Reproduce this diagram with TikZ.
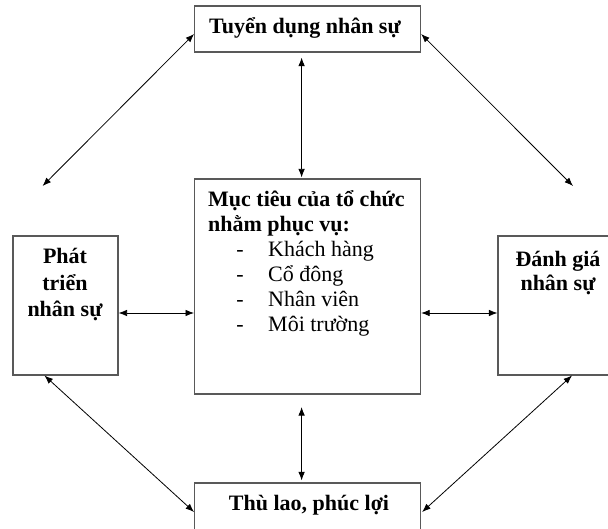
\documentclass[tikz,border=0pt]{standalone}
\usepackage{fontspec}
\setmainfont{Liberation Serif}
\usetikzlibrary{arrows.meta}
\begin{document}
\begin{tikzpicture}[x=1pt,y=-1pt,
  box/.style={draw=black!65,line width=1.1pt,inner sep=0pt,rectangle},
  conn/.style={{Latex[length=8.5pt,width=6.5pt]}-{Latex[length=8.5pt,width=6.5pt]},line width=0.8pt,black},
  ttl/.style={font=\fontsize{22}{26}\selectfont\bfseries,inner sep=0pt,anchor=base},
  itm/.style={font=\fontsize{22}{26}\selectfont,inner sep=0pt,anchor=base west}]
\clip (0,0) rectangle (608,529);
\fill[white] (0,0) rectangle (608,529);
% boxes
\node[box,minimum width=226pt,minimum height=46pt] (top) at (307.6,29) {};
\node[box,minimum width=226pt,minimum height=215pt] (ctr) at (307.6,286.5) {};
\node[box,minimum width=105pt,minimum height=139pt] (lft) at (65.5,305.5) {};
\node[box,minimum width=122pt,minimum height=139pt] (rgt) at (559,305.5) {};
\node[box,minimum width=226pt,minimum height=57pt] (bot) at (307.6,511.5) {};
% texts
\node[ttl] (ttop) at (305,33.3) {Tuyển dụng nhân sự};
\node[ttl] (tbot) at (309,510.7) {Thù lao, phúc lợi};
\node[ttl] (tl1) at (65,263.3) {Phát};
\node[ttl] (tl2) at (65,290.7) {triển};
\node[ttl] (tl3) at (65,316.7) {nhân sự};
\node[ttl] (tr1) at (558,266.7) {Đánh giá};
\node[ttl] (tr2) at (558,290.7) {nhân sự};
\node[itm,font=\fontsize{22}{26}\selectfont\bfseries] (c1) at (208,206.7) {Mục tiêu của tổ chức};
\node[itm,font=\fontsize{22}{26}\selectfont\bfseries] (c2) at (208,231.7) {nhằm phục vụ:};
\foreach \i/\y/\t in {3/257/Khách hàng,4/281.7/Cổ đông,5/307/Nhân viên,6/332/Môi trường}{
  \node[itm,anchor=base] (d\i) at (240,\y) {-};
  \node[itm] (c\i) at (268,\y) {\t};
}
% connector helpers
\coordinate (hl) at (0,313);
\coordinate (fl) at (42.6,186);
\coordinate (fr) at (573,186);
\draw[conn] ([xshift=-6pt,yshift=-5pt]top.south) -- ([xshift=-6pt,yshift=1pt]ctr.north);
\draw[conn] ([xshift=-6pt,yshift=-12.5pt]ctr.south) -- ([xshift=-6pt,yshift=2pt]bot.north);
\draw[conn] (lft.east |- hl) -- (ctr.west |- hl);
\draw[conn] (ctr.east |- hl) -- (rgt.west |- hl);
\draw[conn] ([yshift=-5pt]top.west) -- (fl);
\draw[conn] ([yshift=-5pt]top.east) -- (fr);
\draw[conn] ([xshift=-21pt]lft.south) -- ([yshift=-0.5pt]bot.west);
\draw[conn] ([xshift=13pt]rgt.south) -- ([xshift=1pt,yshift=-0.5pt]bot.east);
\end{tikzpicture}
\end{document}
